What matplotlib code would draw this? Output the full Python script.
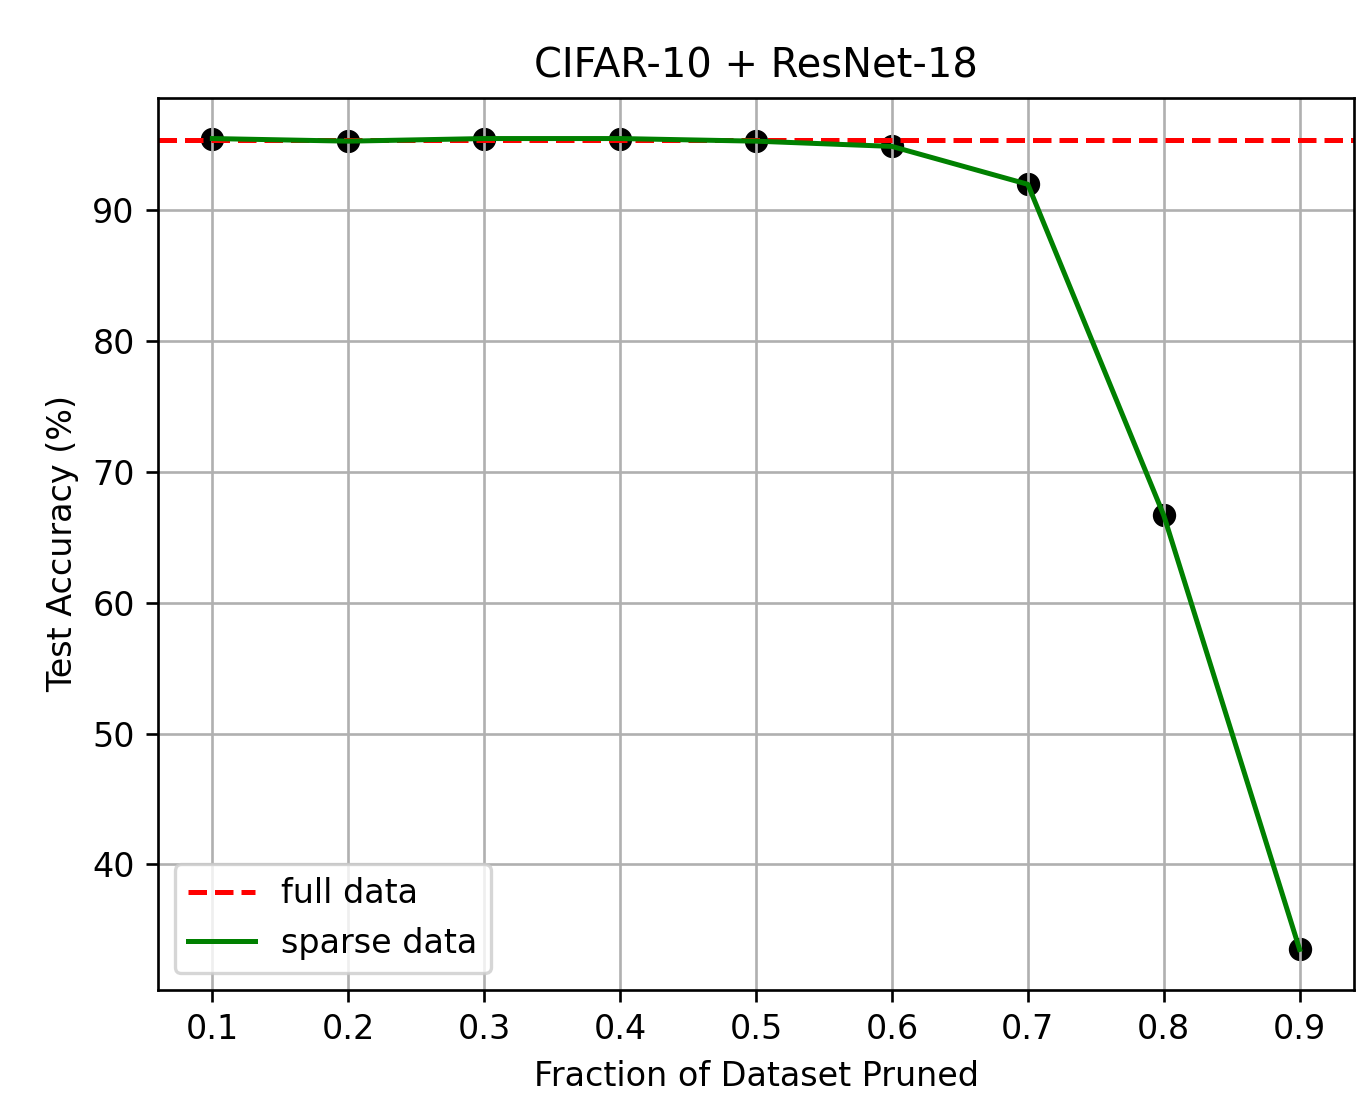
import numpy as np
import matplotlib.pyplot as plt

# fraction of dataset pruned vs. test accuracy
fractions = [0.1, 0.2, 0.3, 0.4, 0.5, 0.6, 0.7, 0.8, 0.9]
sparse_acc = [95.5, 95.3, 95.5, 95.5, 95.3, 94.9, 92.0, 66.7, 33.5]
full_acc = 95.4

dpi = 240
fig = plt.figure(figsize=(1356 / dpi, 1094 / dpi), dpi=dpi)
ax = fig.add_axes([158 / 1356, 1 - 990 / 1094, (1354 - 158) / 1356, (990 - 98) / 1094])

ax.scatter(fractions, sparse_acc, color='black')
ax.axhline(full_acc, color='red', linestyle='--', label='full data')
ax.plot(fractions, sparse_acc, color='green', label='sparse data')

ax.set_xticks(fractions)
ax.set_title('CIFAR-10 + ResNet-18')
ax.set_xlabel('Fraction of Dataset Pruned')
ax.set_ylabel('Test Accuracy (%)')
ax.legend(loc='lower left')
ax.grid()

fig.savefig('out.png', dpi=dpi)
